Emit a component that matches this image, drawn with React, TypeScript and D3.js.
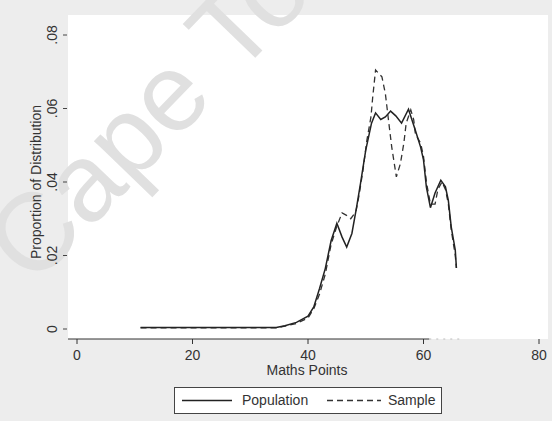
import React from "react";
import * as d3 from "d3";

const popX = [11, 15, 20, 25, 30, 34.5, 36, 38, 40, 41, 42, 43, 44, 45, 45.9, 46.7, 47.6, 48.4, 49.1, 50, 51, 51.7, 52.6, 53.4, 54.3, 55.2, 56.2, 57.4, 58.6, 59.5, 60, 60.5, 61.2, 62, 63, 63.8, 64.3, 64.8, 65.5, 65.7];
const popY = [0.0004, 0.0004, 0.0004, 0.0004, 0.0004, 0.0004, 0.0009, 0.0018, 0.0035, 0.006, 0.011, 0.0165, 0.024, 0.0288, 0.025, 0.0223, 0.026, 0.033, 0.0397, 0.0487, 0.056, 0.0588, 0.057, 0.0577, 0.0593, 0.058, 0.056, 0.0598, 0.054, 0.0495, 0.046, 0.0386, 0.033, 0.037, 0.0405, 0.0387, 0.035, 0.0278, 0.0215, 0.0166];

const sampX = [11, 15, 20, 25, 30, 34.5, 36, 38, 40, 41, 42, 43, 44, 45, 45.9, 46.6, 47.4, 48.3, 48.8, 49.5, 50.2, 50.9, 51.2, 51.7, 52.8, 53.4, 54, 54.5, 55.3, 56, 56.6, 57, 57.8, 58.3, 58.6, 59.5, 60, 60.5, 61.2, 62, 62.5, 63.2, 63.8, 64.3, 64.8, 65.5, 65.7];
const sampY = [0.0003, 0.0003, 0.0003, 0.0003, 0.0003, 0.0003, 0.0008, 0.0015, 0.003, 0.0055, 0.0095, 0.015, 0.023, 0.028, 0.0316, 0.031, 0.030, 0.032, 0.036, 0.043, 0.0514, 0.0577, 0.063, 0.0705, 0.0686, 0.064, 0.056, 0.0495, 0.0414, 0.045, 0.0506, 0.056, 0.0596, 0.057, 0.053, 0.0506, 0.047, 0.040, 0.034, 0.034, 0.038, 0.040, 0.038, 0.034, 0.027, 0.020, 0.0166];

const xTicks = [0, 20, 40, 60, 80];
const yTicks = [0, 0.02, 0.04, 0.06, 0.08];
const yTickLabels = ["0", ".02", ".04", ".06", ".08"];
const seriesNames = ["Population", "Sample"];

const W = 552;
const H = 421;
const FONT = "'Liberation Sans', Arial, sans-serif";

export default function App() {
  const x = d3.scaleLinear().domain([0, 80]).range([77, 539]);
  const y = d3.scaleLinear().domain([0, 0.08]).range([329, 35]);
  const line = d3
    .line<[number, number]>()
    .x((d) => x(d[0]))
    .y((d) => y(d[1]));
  const popPts = popX.map((v, i) => [v, popY[i]] as [number, number]);
  const sampPts = sampX.map((v, i) => [v, sampY[i]] as [number, number]);

  const plotLeft = 68;
  const plotRight = 548;
  const plotTop = 15;
  const axisY = 339;
  const fadeX = x(61);

  return (
    <svg
      width={W}
      height={H}
      style={{ position: "absolute", left: 0, top: 0, display: "block" }}
      fontFamily={FONT}
    >
      <rect x={0} y={0} width={W} height={H} fill="#ededed" />
      <rect x={plotLeft} y={plotTop} width={plotRight - plotLeft} height={axisY - plotTop} fill="#ffffff" />

      {/* scan watermark */}
      <text
        x={33}
        y={288}
        fontSize={110}
        fill="#e0e0e0"
        transform="rotate(-46 33 288)"
        fontFamily={FONT}
      >
        Cape Town
      </text>

      {/* x axis */}
      <line x1={plotLeft} x2={fadeX} y1={axisY} y2={axisY} stroke="#333" strokeWidth={1} />
      <line x1={fadeX} x2={x(67)} y1={axisY} y2={axisY} stroke="#bdbdbd" strokeWidth={1} strokeDasharray="2,5" />
      {xTicks.map((t) => (
        <g key={t}>
          <line x1={x(t)} x2={x(t)} y1={axisY} y2={axisY + 5} stroke="#333" strokeWidth={1} />
          <text x={x(t)} y={360} fontSize={14} textAnchor="middle" fill="#333">
            {t}
          </text>
        </g>
      ))}
      <text x={(x(0) + x(80)) / 2 - 1} y={375} fontSize={14} textAnchor="middle" fill="#333">
        Maths Points
      </text>

      {/* y axis */}
      {yTicks.map((t, i) => (
        <g key={t}>
          <line x1={63} x2={67} y1={y(t)} y2={y(t)} stroke="#444" strokeWidth={1} />
          <text
            x={57}
            y={y(t)}
            fontSize={14}
            textAnchor="middle"
            fill="#333"
            transform={`rotate(-90 57 ${y(t)})`}
          >
            {yTickLabels[i]}
          </text>
        </g>
      ))}
      <text
        x={41}
        y={y(0.04)}
        fontSize={14}
        textAnchor="middle"
        fill="#333"
        transform={`rotate(-90 41 ${y(0.04)})`}
      >
        Proportion of Distribution
      </text>

      {/* series */}
      <path d={line(sampPts) || ""} fill="none" stroke="#333" strokeWidth={1.3} strokeDasharray="6,4" />
      <path d={line(popPts) || ""} fill="none" stroke="#222" strokeWidth={1.5} />

      {/* legend */}
      <rect x={174.5} y={387.5} width={267} height={26} fill="#ffffff" stroke="#444" strokeWidth={1} />
      <line x1={182} x2={232} y1={400.5} y2={400.5} stroke="#222" strokeWidth={1.5} />
      <text x={242} y={405} fontSize={14} fill="#333">
        {seriesNames[0]}
      </text>
      <line x1={327} x2={381} y1={400.5} y2={400.5} stroke="#333" strokeWidth={1.3} strokeDasharray="6,4" />
      <text x={388} y={405} fontSize={14} fill="#333">
        {seriesNames[1]}
      </text>
    </svg>
  );
}
